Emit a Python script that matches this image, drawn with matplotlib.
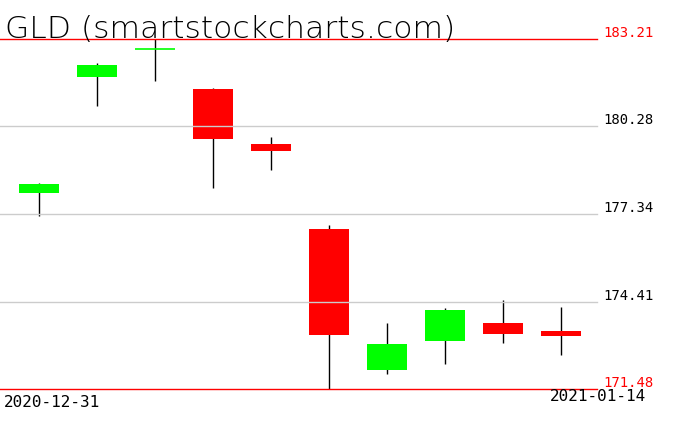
import matplotlib
matplotlib.use("Agg")
import matplotlib.pyplot as plt
import matplotlib.transforms as mtransforms

dates = ["2020-12-31", "2021-01-04", "2021-01-05", "2021-01-06", "2021-01-07",
         "2021-01-08", "2021-01-11", "2021-01-12", "2021-01-13", "2021-01-14"]
opens = [178.05, 181.94, 182.86, 181.53, 179.69, 176.84, 172.12, 173.09, 173.69, 173.42]
highs = [178.38, 182.41, 183.21, 181.57, 179.93, 176.98, 173.69, 174.20, 174.46, 174.23]
lows = [177.28, 180.96, 181.81, 178.22, 178.82, 171.48, 171.98, 172.32, 173.02, 172.62]
closes = [178.35, 182.34, 182.86, 179.86, 179.46, 173.29, 172.99, 174.13, 173.32, 173.26]
price_ticks = [171.48, 174.41, 177.34, 180.28, 183.21]
title = "GLD (smartstockcharts.com)"

W, H = 676, 431
fig = plt.figure(figsize=(W / 100, H / 100), dpi=100)
ax = fig.add_axes([0, 1 - 390 / H, 597 / W, 350 / H])
ax.set_xlim(-0.672, 9.621)
ax.set_ylim(min(lows), max(highs))
ax.axis("off")

green = "#00ff00"
red = "#ff0000"
width = 0.69
for i in range(len(dates)):
    o, h, l, c = opens[i], highs[i], lows[i], closes[i]
    col = green if c >= o else red
    ax.vlines(i, l, h, color="black", lw=1.0, zorder=1, clip_on=False)
    if abs(c - o) < 1e-9:
        # doji: just a flat line
        ax.hlines(o, i - width / 2, i + width / 2, color=col, lw=1.2, zorder=2)
    else:
        ax.bar(i, c - o, bottom=o, width=width, color=col, lw=0, zorder=2)

# grid / limit lines (drawn over the bodies like in the original)
for k, p in enumerate(price_ticks):
    is_edge = k == 0 or k == len(price_ticks) - 1
    ax.axhline(p, color=red if is_edge else "#cccccc", lw=1.0, zorder=3,
               clip_on=False)

trans = mtransforms.blended_transform_factory(ax.transAxes, ax.transData)
for k, p in enumerate(price_ticks):
    is_edge = k == 0 or k == len(price_ticks) - 1
    ax.text(1.01, p, f"{p:.2f}", transform=trans, ha="left", va="bottom",
            fontsize=10, family="DejaVu Sans Mono",
            color=red if is_edge else "black")

ax.text(0.007, -0.014, dates[0], transform=ax.transAxes, ha="left", va="top",
        fontsize=11.5, family="DejaVu Sans Mono")
ax.text(1.082, 0.003, dates[-1], transform=ax.transAxes, ha="right", va="top",
        fontsize=11.5, family="DejaVu Sans Mono")

fig.text(5 / W, 1 - 38 / H, title, ha="left", va="baseline", fontsize=22.6,
         weight="light", color="black")

fig.savefig("out.png", dpi=100)
